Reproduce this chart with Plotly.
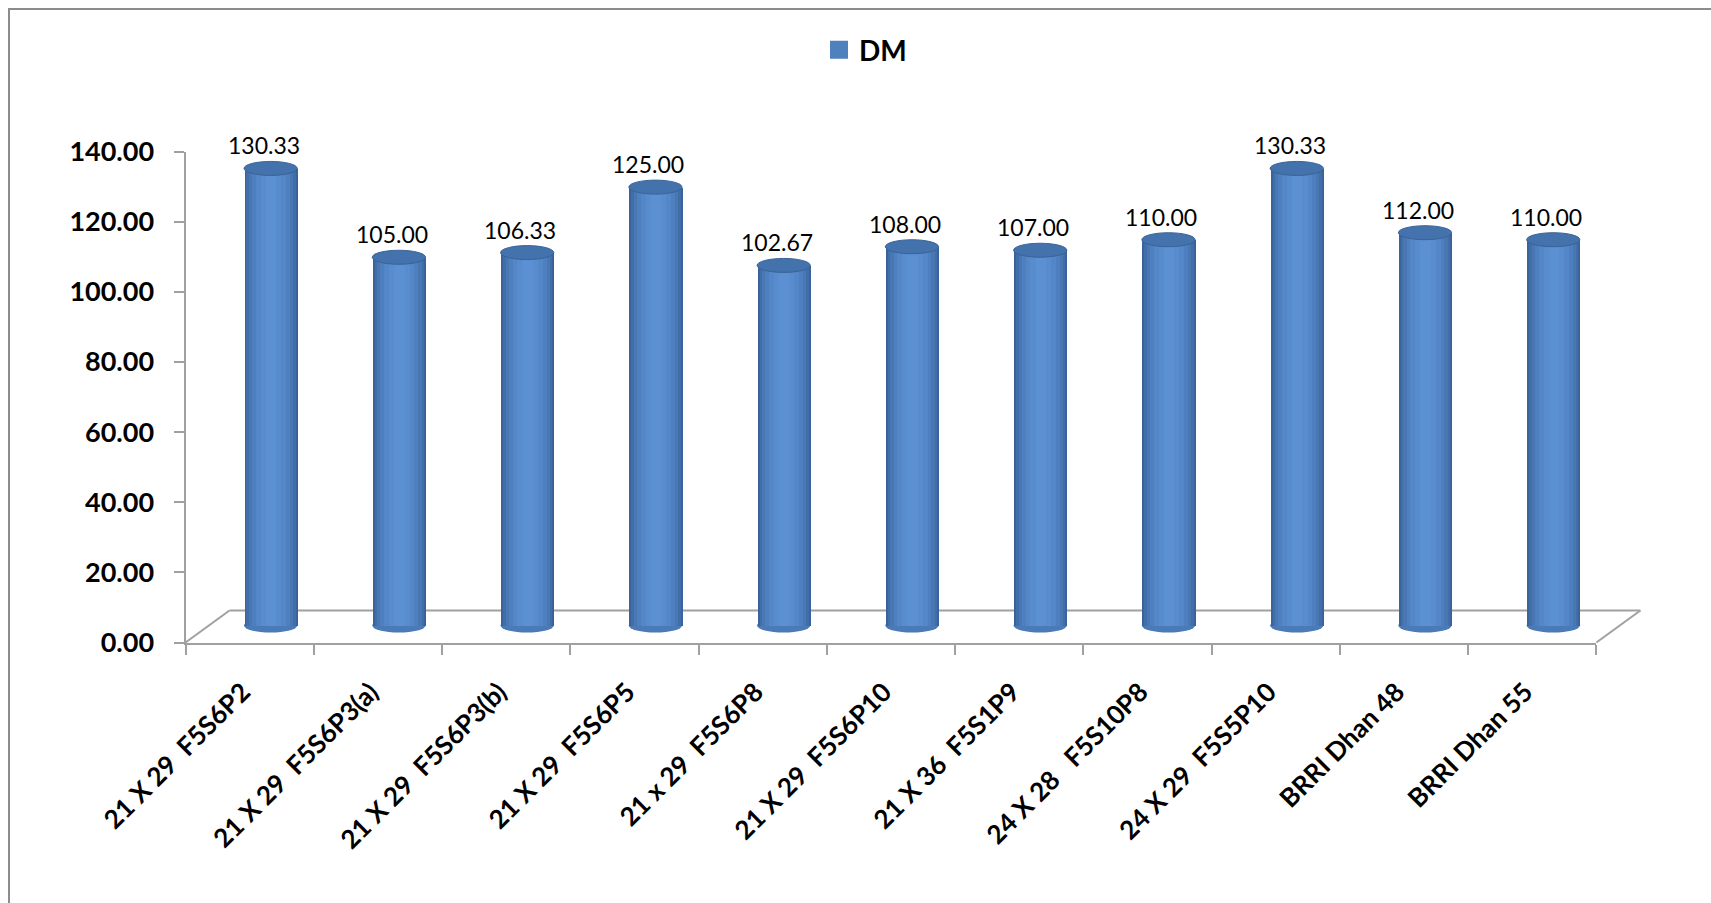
import plotly.graph_objects as go

# ---------------- data ----------------
categories = ["21 X 29  F5S6P2", "21 X 29  F5S6P3(a)", "21 X 29  F5S6P3(b)", "21 X 29  F5S6P5",
              "21 x 29  F5S6P8", "21 X 29  F5S6P10", "21 X 36  F5S1P9", "24 X 28   F5S10P8",
              "24 X 29  F5S5P10", "BRRI Dhan 48", "BRRI Dhan 55"]
dm_values = [130.33, 105.00, 106.33, 125.00, 102.67, 108.00, 107.00, 110.00, 130.33, 112.00, 110.00]
y_ticks = [0, 20, 40, 60, 80, 100, 120, 140]
series_name = "DM"

# ---------------- geometry (pixels in 1711x903) ----------------
W, H = 1711, 903
X0, X1 = 185.5, 1596.4      # front floor edge (category axis)
Y0, YTOP = 642.5, 151.5     # value 0 and value 140 on the front axis
YMAX = 140
n = len(categories)
ppu = (Y0 - YTOP) / YMAX    # px per value unit
ppc = (X1 - X0) / n         # px per category
DEPTH_X, DEPTH_Y = 44, 32   # floor depth offset
BAR_DX, BAR_DY = 21, 17     # bars sit at mid depth

def fx(p):
    return p / W

def fy(p):
    return 1 - p / H

tick_text = [c.replace("  ", "\u00a0\u00a0") for c in categories]

# cylinder shading: (width in category units, colour), widest first
layers = [(0.415, "#39649A"), (0.385, "#416EA8"), (0.345, "#4877B4"),
          (0.295, "#4E80BF"), (0.235, "#5387C8"), (0.16, "#588CCE"), (0.08, "#5B90D2")]
BW = layers[0][0]
EH = 7 / ppu                 # half height of cap ellipse in value units

fig = go.Figure()
for w, col in layers:
    fig.add_trace(go.Bar(x=categories, y=dm_values, width=w, marker_color=col,
                         marker_line_width=0, xaxis="x2", yaxis="y2",
                         showlegend=False, hoverinfo="skip"))

# legend entry for the series
fig.add_trace(go.Scatter(x=[None], y=[None], mode="markers", name=series_name,
                         marker=dict(symbol="square", size=16, color="#4F81BD",
                                     line=dict(color="#4F81BD", width=2)),
                         showlegend=True))

shapes = []
# floor of the 3-D plot
bx0, bx1, by = X0 + DEPTH_X, X1 + DEPTH_X, Y0 - DEPTH_Y
for (ax, ay, bxx, byy) in [(bx0, by, bx1, by), (X0, Y0, bx0, by), (X1, Y0, bx1, by)]:
    shapes.append(dict(type="line", xref="paper", yref="paper",
                       x0=fx(ax), y0=fy(ay), x1=fx(bxx), y1=fy(byy),
                       line=dict(color="#A0A0A0", width=2), layer="below"))
# outer chart border
shapes.append(dict(type="rect", xref="paper", yref="paper", x0=fx(9), y0=-0.05,
                   x1=1.05, y1=fy(9), line=dict(color="#8C8C8C", width=2)))

annotations = []
for i, v in enumerate(dm_values):
    # bottom ellipse
    shapes.append(dict(type="circle", xref="x2", yref="y2",
                       x0=i - BW / 2, x1=i + BW / 2, y0=-EH, y1=EH,
                       fillcolor="#4A7AB8", line=dict(width=0), layer="below"))
    # top cap
    shapes.append(dict(type="circle", xref="x2", yref="y2",
                       x0=i - BW / 2, x1=i + BW / 2, y0=v - EH, y1=v + EH,
                       fillcolor="#4472AD", line=dict(color="#3A6396", width=1)))
    annotations.append(dict(x=i, y=v, xref="x2", yref="y2", text=f"{v:.2f}",
                            showarrow=False, yanchor="bottom", yshift=7, xshift=-7,
                            font=dict(family="Lato", size=23, color="black")))

axis_line = dict(showline=True, linecolor="#A0A0A0", linewidth=2, ticks="outside",
                 ticklen=10, tickwidth=2, tickcolor="#A0A0A0", showgrid=False,
                 zeroline=False, automargin=False)

fig.update_layout(
    template="none",
    width=W, height=H, margin=dict(l=0, r=0, t=0, b=0, pad=0, autoexpand=False),
    paper_bgcolor="white", plot_bgcolor="rgba(0,0,0,0)",
    barmode="overlay", bargap=0,
    xaxis=dict(domain=[fx(X0), fx(X1)], type="category", categoryorder="array",
               categoryarray=categories, range=[-0.5, n - 0.5],
               tickmode="array", tickvals=categories, ticktext=tick_text,
               tickangle=-45, tickson="boundaries", anchor="y",
               ticklabelstandoff=22, ticklabelshift=-7,
               tickfont=dict(family="Lato", size=26, color="black", weight="bold"),
               **axis_line),
    yaxis=dict(domain=[fy(Y0), fy(YTOP)], range=[0, YMAX], tickmode="array",
               tickvals=y_ticks, tickformat=".2f", anchor="x", ticklabelstandoff=14,
               tickfont=dict(family="Lato", size=27, color="black", weight="bold"),
               **axis_line),
    xaxis2=dict(overlaying="x", type="category", categoryorder="array",
                categoryarray=categories,
                range=[-0.5 - BAR_DX / ppc, n - 0.5 - BAR_DX / ppc], visible=False),
    yaxis2=dict(overlaying="y", range=[-BAR_DY / ppu, YMAX - BAR_DY / ppu], visible=False),
    shapes=shapes, annotations=annotations,
    showlegend=True,
    legend=dict(x=fx(819), y=fy(50), xanchor="left", yanchor="middle",
                orientation="h", bgcolor="rgba(0,0,0,0)",
                font=dict(family="Lato", size=28, color="black", weight="bold")),
)

fig.write_html("out.html")
